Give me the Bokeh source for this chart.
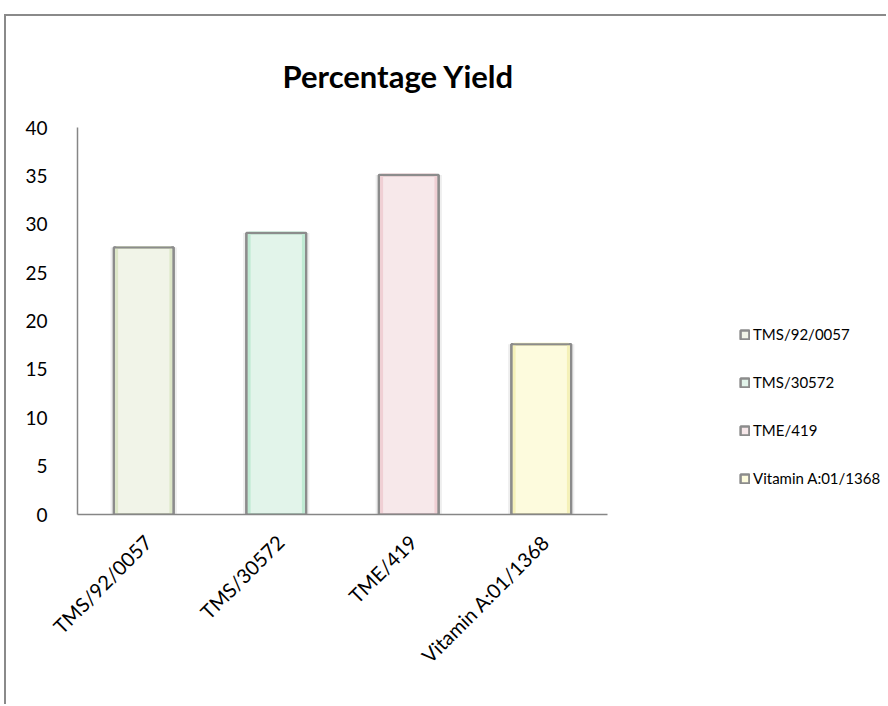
from bokeh.plotting import figure
from bokeh.models import (ColumnDataSource, Range1d, FixedTicker, Legend, LegendItem, Title)
from bokeh.embed import file_html
from bokeh.resources import INLINE
import math

categories = ["TMS/92/0057", "TMS/30572", "TME/419", "Vitamin A:01/1368"]
yields = [27.6, 29.1, 35.1, 17.6]
y_ticks = [0, 5, 10, 15, 20, 25, 30, 35, 40]

fill_colors = ["#f1f4e8", "#e2f4ea", "#f7e8ea", "#fdfbdd"]
edge_colors = ["#dde7c8", "#bfead3", "#f0cfd4", "#f5f1b8"]

n = len(categories)
xpos = [i + 0.5 for i in range(n)]
src = ColumnDataSource(dict(x=xpos, cats=categories, vals=yields, fill=fill_colors, edge=edge_colors))

FONT = "Lato"
W, H = 882, 690
LEFT, TOP, BOTTOM, RIGHT = 71, 111, 192, 0
FRAME_W = W - LEFT - RIGHT
AXIS_W = 530  # pixel width of the category area
x_end = n * FRAME_W / AXIS_W

p = figure(width=W, height=H, x_range=Range1d(0, x_end), y_range=Range1d(0, 40),
           output_backend="svg", toolbar_location=None,
           min_border_left=LEFT, min_border_right=RIGHT, min_border_top=TOP, min_border_bottom=BOTTOM)
p.styles = {"margin-left": "4px", "margin-top": "14px",
            "border-left": "2px solid #8a8a8a", "border-top": "2px solid #8a8a8a"}
p.outline_line_color = None
p.xgrid.grid_line_color = None
p.ygrid.grid_line_color = None
p.background_fill_color = "white"
p.border_fill_color = "white"

# shadow
p.vbar(x="x", top="vals", width=0.5, source=src, fill_color="#eeeeee", line_color=None)
main = p.vbar(x="x", top="vals", width=0.45, source=src, fill_color="fill",
              line_color="#8c8c8c", line_width=2.5)
p.vbar(x="x", top="vals", width=0.41, source=src, fill_color=None,
       line_color="edge", line_width=3)
p.vbar(x="x", top="vals", width=0.45, source=src, fill_color=None,
       line_color="#8c8c8c", line_width=2)

# axes
for ax in (p.xaxis[0], p.yaxis[0]):
    ax.axis_line_color = "#868686"
    ax.axis_line_width = 1.5
    ax.major_tick_line_color = None
    ax.minor_tick_line_color = None
    ax.major_label_text_font = FONT
    ax.major_label_text_color = "#000000"

p.yaxis.major_label_text_font_size = "19px"
p.xaxis.major_label_text_font_size = "20px"

p.xaxis.bounds = (0, n)
lab_ticks = [x + 0.03 for x in xpos]
p.xaxis.ticker = FixedTicker(ticks=lab_ticks)
p.xaxis.major_label_overrides = {t: c for t, c in zip(lab_ticks, categories)}
p.xaxis.major_label_orientation = math.pi / 4
p.xaxis.major_label_standoff = 18

p.yaxis.ticker = FixedTicker(ticks=y_ticks)
p.yaxis.major_label_standoff = 24

title = Title(text="Percentage Yield", text_font=FONT, text_font_size="31px",
              text_font_style="bold", text_color="#000000", align="left", offset=205, standoff=66)
p.add_layout(title, "above")

items = [LegendItem(label=c, renderers=[main], index=i) for i, c in enumerate(categories)]
legend = Legend(items=items, location=(662, 26), orientation="vertical",
                label_text_font=FONT, label_text_font_size="15px", label_text_color="#000000",
                glyph_width=11, glyph_height=11, label_height=20, spacing=28,
                padding=0, margin=0, label_standoff=3,
                border_line_color=None, background_fill_alpha=0)
p.add_layout(legend, "center")

open("out.html", "w").write(file_html(p, INLINE))
